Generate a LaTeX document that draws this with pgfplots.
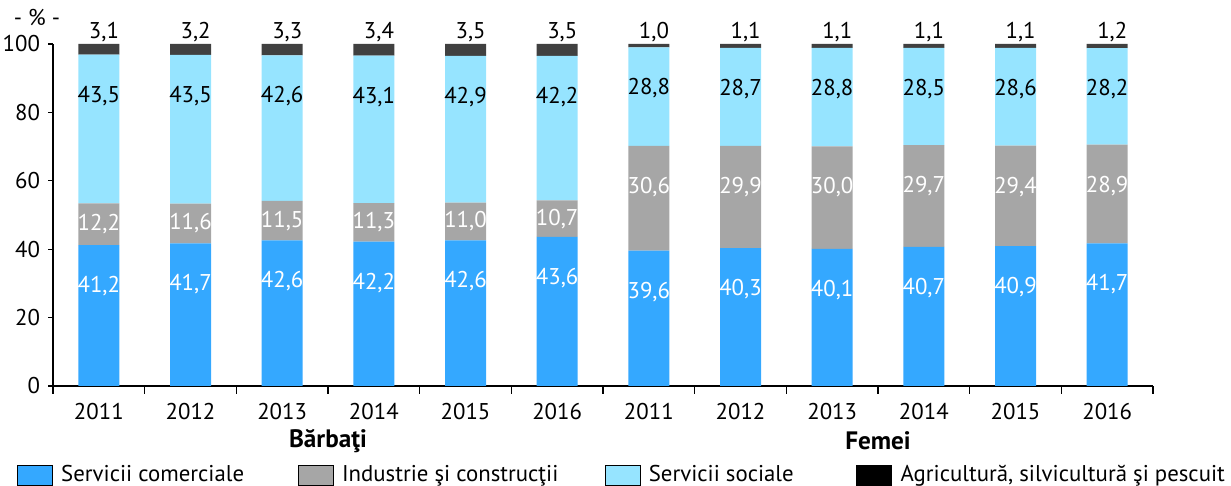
\documentclass[border=0pt]{standalone}
\usepackage{pgfplots}
\pgfplotsset{compat=1.18}
\usepackage{pgfplotstable}
\usepackage{fontspec}
\setmainfont{PT Sans}
\definecolor{cblue}{RGB}{52,168,255}
\definecolor{cgrey}{RGB}{166,166,166}
\definecolor{clight}{RGB}{150,228,255}
\definecolor{cdark}{RGB}{64,64,64}
\pgfkeys{/pgf/number format/assume math mode=true}
\pgfplotstableread{
x b g l d
0 41.2 12.2 43.5 3.1
1 41.7 11.6 43.5 3.2
2 42.6 11.5 42.6 3.3
3 42.2 11.3 43.1 3.4
4 42.6 11.0 42.9 3.5
5 43.6 10.7 42.2 3.5
6 39.6 30.6 28.8 1.0
7 40.3 29.9 28.7 1.1
8 40.1 30.0 28.8 1.1
9 40.7 29.7 28.5 1.1
10 40.9 29.4 28.6 1.1
11 41.7 28.9 28.2 1.2
}\data
\pgfplotsset{inlab/.style={nodes near coords style={text=#1, anchor=center,
   /utils/exec={\pgfmathsetmacro\myshift{1.71*max(0,0.5*\myv-12)}},
   yshift=\myshift pt}},
  toplab/.style={nodes near coords style={text=black, anchor=base east, inner sep=0pt,
   /utils/exec={\pgfmathsetmacro\myshift{1.71*0.5*\myv+2.5}},
   yshift=\myshift pt, xshift=10.25pt}}}
\begin{document}
\fontsize{11.4}{13}\selectfont
\begin{tikzpicture}
\path[use as bounding box] (0,0) rectangle (615.5pt,243pt);
\begin{axis}[at={(26.5pt,50pt)}, anchor=south west, scale only axis,
  width=550pt, height=171pt,
  ymin=0, ymax=100, xmin=-0.5, xmax=11.5,
  ybar stacked, bar width=20.5pt,
  axis x line*=bottom, axis y line*=left, axis line style={-, black, line width=0.6pt},
  ytick={0,20,...,100},
  xtick={0,...,11},
  xticklabels={2011,2012,2013,2014,2015,2016,2011,2012,2013,2014,2015,2016},
  xtick style={draw=none},
  extra x ticks={-0.5,0.5,...,11.5}, extra x tick labels={},
  extra x tick style={xtick style={draw=black}, major tick length=4pt},
  tick align=outside, major tick length=2.5pt,
  tick style={black, line width=0.6pt},
  xticklabel style={yshift=-2pt},
  clip=false,
  legend columns=4,
  legend style={at={(-0.0327,-0.26)}, anchor=west, draw=none, fill=none,
    column sep=0pt, inner sep=0pt, nodes={inner sep=0pt, anchor=west}},
  legend image code/.code={\fill[#1] (0pt,-5pt) rectangle (17.5pt,5pt);},
  visualization depends on={rawy \as \myv},
  point meta=rawy,
  nodes near coords={\pgfmathprintnumber[fixed,fixed zerofill,precision=1,use comma]{\pgfplotspointmeta}},
]
\addlegendimage{fill=cblue}
\addlegendentry{\makebox[122.5pt][l]{\hspace{4pt}Servicii comerciale}}
\addlegendimage{fill=cgrey}
\addlegendentry{\makebox[135.5pt][l]{\hspace{4pt}Industrie şi construcţii}}
\addlegendimage{fill=clight}
\addlegendentry{\makebox[107.5pt][l]{\hspace{4pt}Servicii sociale}}
\addlegendimage{fill=black}
\addlegendentry{\hspace{4.5pt}Agricultură, silvicultură şi pescuit}
\addplot[fill=cblue, draw=none, inlab=white, forget plot] table[x=x,y=b]{\data};
\addplot[fill=cgrey, draw=none, inlab=white, forget plot] table[x=x,y=g]{\data};
\addplot[fill=clight, draw=none, inlab=black, forget plot] table[x=x,y=l]{\data};
\addplot[fill=cdark, draw=none, toplab, forget plot] table[x=x,y=d]{\data};
\node[font=\fontsize{12.6}{14}\selectfont\bfseries] at (axis cs:2.5,0) [yshift=-27.5pt] {Bărbaţi};
\node[font=\fontsize{12.6}{14}\selectfont\bfseries] at (axis cs:8.5,0) [yshift=-27.5pt] {Femei};
\node at (rel axis cs:0,1) [xshift=-8pt, yshift=13pt] {- \% -};
\end{axis}
\end{tikzpicture}
\end{document}
